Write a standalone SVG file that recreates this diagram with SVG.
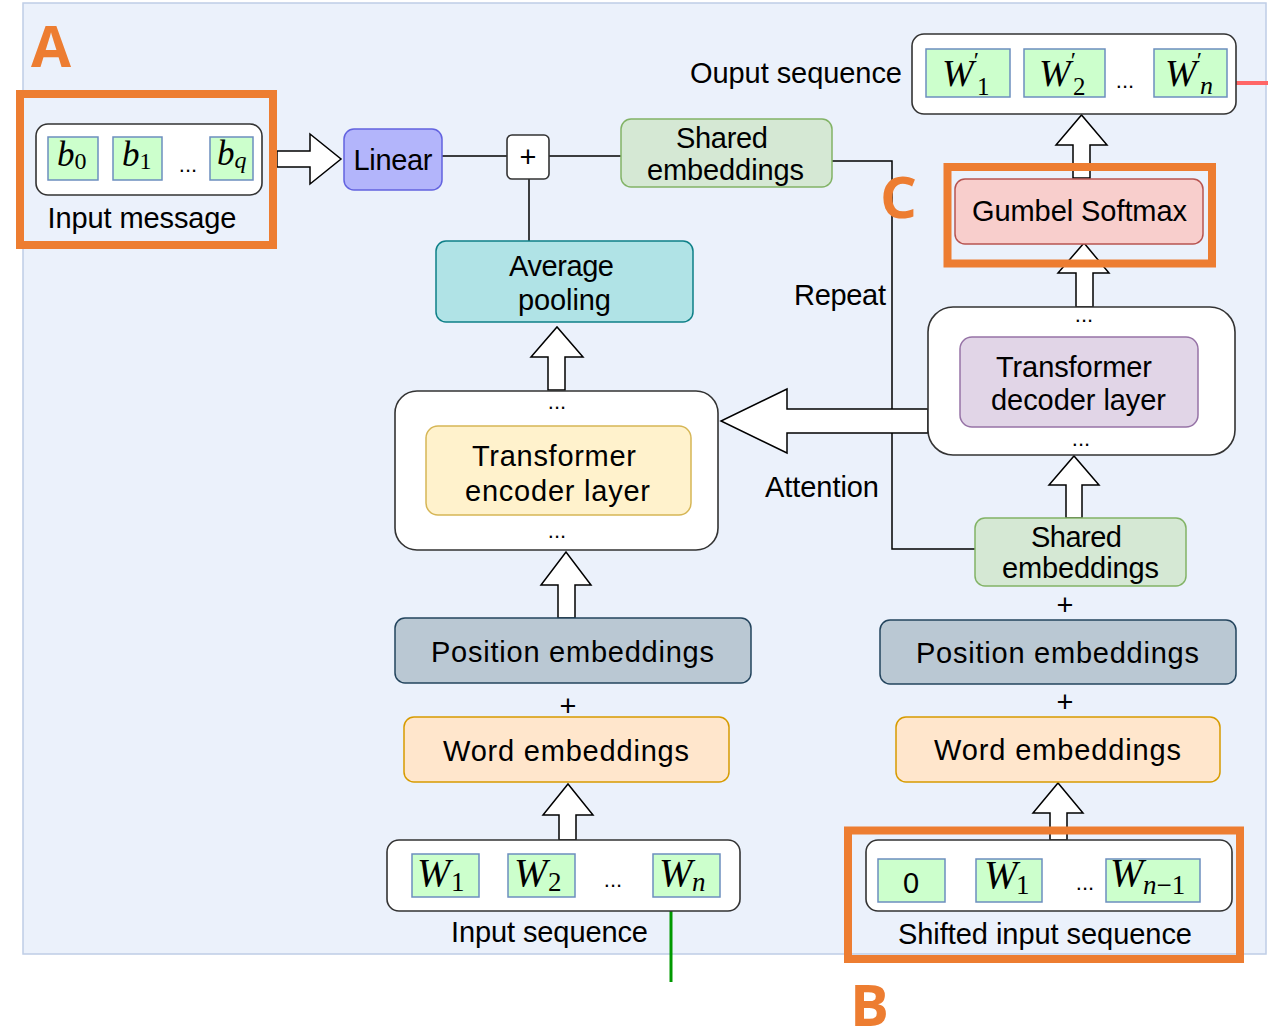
<svg xmlns="http://www.w3.org/2000/svg" width="1268" height="1032" viewBox="0 0 1268 1032">
<style>
.t{font-family:"Liberation Sans",Arial,sans-serif;font-size:29px;fill:#000}
.c{text-anchor:middle}
.m{font-family:"Liberation Serif","Times New Roman",serif;font-style:italic;fill:#000}
.u{font-style:normal}
.d{font-family:"Liberation Sans",Arial,sans-serif;font-size:22px;fill:#000;text-anchor:middle}
.cont{fill:#fff;stroke:#333;stroke-width:1.6}
.cell{fill:#CCFFCC;stroke:#6C8EBF;stroke-width:1.5}
.ln{fill:none;stroke:#000;stroke-width:1.5}
.ba{fill:#fff;stroke:#000;stroke-width:1.5;stroke-linejoin:miter}
.ob{fill:none;stroke:#ED7D31;stroke-width:8}
.big{font-family:"Open Sans","Liberation Sans",sans-serif;font-weight:bold;font-size:58px;fill:#ED7D31}
</style>
<rect x="0" y="0" width="1268" height="1032" fill="#fff"/>
<rect id="panel" x="23" y="3" width="1243" height="951" fill="#EBF1FB" stroke="#BFCDE6" stroke-width="1.5"/>

<g id="connectors">
<path class="ln" d="M442,156 H507"/>
<path class="ln" d="M549,156 H621"/>
<path class="ln" d="M529,179 V241"/>
<path class="ln" d="M832,161 H892 V549 H975"/>
<polygon class="ba" points="277,151 310,151 310,134 341,159 310,184 310,167 277,167"/>
<polygon class="ba" points="1073,178 1073,145 1056,145 1081.5,115 1107,145 1090,145 1090,178"/>
<polygon class="ba" points="1076,307 1076,273 1058,273 1084,243 1109,273 1093,273 1093,307"/>
<polygon class="ba" points="548,390 548,357 531,357 557,327 583,357 565,357 565,390"/>
<polygon class="ba" points="558,618 558,585 541,585 566,552 591,585 575,585 575,618"/>
<polygon class="ba" points="1066,518 1066,485 1049,485 1074,456 1099,485 1082,485 1082,518"/>
<polygon class="ba" points="559,840 559,815 543,815 568,784 593,815 576,815 576,840"/>
<polygon class="ba" points="1050,840 1050,813 1033,813 1058,783 1083,813 1067,813 1067,840"/>
<polygon class="ba" points="928,409 787,409 787,389 721,421 787,453 787,433 928,433"/>
<path d="M671,911 V982" stroke="#009900" stroke-width="3" fill="none"/>
<path d="M1236,83 H1268" stroke="#FF6666" stroke-width="4" fill="none"/>
</g>

<g id="input-message">
<rect class="cont" x="36" y="124" width="226" height="71" rx="12"/>
<rect class="cell" x="48" y="137" width="50" height="43"/>
<rect class="cell" x="113" y="137" width="49" height="43"/>
<rect class="cell" x="210" y="137" width="43" height="43"/>
<text class="m" x="57" y="166" font-size="35">b<tspan class="u" font-size="24" dy="3">0</tspan></text>
<text class="m" x="122" y="166" font-size="35">b<tspan class="u" font-size="24" dy="3">1</tspan></text>
<text class="m" x="217" y="165" font-size="35">b<tspan font-size="24" dy="3">q</tspan></text>
<text class="d" x="188" y="172">...</text>
<text class="t c" x="142" y="228" textLength="189">Input message</text>
</g>

<g id="linear">
<rect x="344" y="129" width="98" height="61" rx="10" fill="#B3B5FB" stroke="#6363E0" stroke-width="1.5"/>
<text class="t c" x="393" y="170" textLength="79">Linear</text>
</g>

<g id="plus">
<rect class="cont" x="507" y="135" width="42" height="44" rx="5"/>
<text class="t c" x="528" y="167" font-size="24">+</text>
</g>

<g id="shared-top">
<rect x="621" y="119" width="211" height="68" rx="10" fill="#D5E8D4" stroke="#82B366" stroke-width="1.5"/>
<text class="t c" x="722" y="148" textLength="92">Shared</text>
<text class="t c" x="725.5" y="180" textLength="157">embeddings</text>
</g>

<g id="output-sequence">
<text class="t" x="902" y="83" text-anchor="end" textLength="212">Ouput sequence</text>
<rect class="cont" x="912" y="34" width="324" height="80" rx="12"/>
<rect class="cell" x="926" y="49" width="84" height="48"/>
<rect class="cell" x="1024" y="49" width="81" height="48"/>
<rect class="cell" x="1154" y="49" width="73" height="48"/>
<text class="m" x="942" y="86" font-size="38">W<tspan class="u" font-size="24" dy="-18">′</tspan><tspan class="u" font-size="25" x="977" dy="27">1</tspan></text>
<text class="m" x="1039" y="86" font-size="38">W<tspan class="u" font-size="24" dy="-18">′</tspan><tspan class="u" font-size="25" x="1073" dy="27">2</tspan></text>
<text class="m" x="1165" y="86" font-size="38">W<tspan class="u" font-size="24" dy="-18">′</tspan><tspan font-size="26" x="1200" dy="26">n</tspan></text>
<text class="d" x="1125" y="88">...</text>
</g>

<g id="gumbel">
<rect x="955" y="179" width="248" height="65" rx="10" fill="#F8CECC" stroke="#B85450" stroke-width="1.5"/>
<text class="t c" x="1079.5" y="221" textLength="215">Gumbel Softmax</text>
</g>

<g id="average-pooling">
<rect x="436" y="241" width="257" height="81" rx="10" fill="#B0E3E6" stroke="#0E8088" stroke-width="1.5"/>
<text class="t c" x="561.5" y="276" textLength="105">Average</text>
<text class="t c" x="564.5" y="310" textLength="93">pooling</text>
</g>

<g id="labels">
<text class="t" x="886" y="305" text-anchor="end" textLength="92">Repeat</text>
<text class="t c" x="822" y="497" textLength="114">Attention</text>
</g>

<g id="encoder">
<rect class="cont" x="395" y="391" width="323" height="159" rx="22"/>
<text class="d" x="557" y="409">...</text>
<rect x="426" y="426" width="265" height="89" rx="12" fill="#FFF2CC" stroke="#D6B656" stroke-width="1.5"/>
<text class="t c" x="554" y="466" textLength="164">Transformer</text>
<text class="t c" x="557.5" y="501" textLength="185">encoder layer</text>
<text class="d" x="557" y="538">...</text>
</g>

<g id="decoder">
<rect class="cont" x="928" y="307" width="307" height="148" rx="25"/>
<text class="d" x="1084" y="322">...</text>
<rect x="960" y="337" width="238" height="90" rx="12" fill="#E1D5E7" stroke="#9673A6" stroke-width="1.5"/>
<text class="t c" x="1074" y="377" textLength="156">Transformer</text>
<text class="t c" x="1078.5" y="410" textLength="175">decoder layer</text>
<text class="d" x="1081" y="446">...</text>
</g>

<g id="shared-bottom">
<rect x="975" y="518" width="211" height="68" rx="10" fill="#D5E8D4" stroke="#82B366" stroke-width="1.5"/>
<text class="t c" x="1076.5" y="547" textLength="91">Shared</text>
<text class="t c" x="1080.5" y="578" textLength="157">embeddings</text>
<text class="t c" x="1065" y="615">+</text>
</g>

<g id="position-left">
<rect x="395" y="618" width="356" height="65" rx="10" fill="#BAC8D3" stroke="#23445D" stroke-width="1.5"/>
<text class="t c" x="572.5" y="662" textLength="283">Position embeddings</text>
<text class="t c" x="568" y="716">+</text>
</g>

<g id="position-right">
<rect x="880" y="620" width="356" height="64" rx="10" fill="#BAC8D3" stroke="#23445D" stroke-width="1.5"/>
<text class="t c" x="1057.5" y="663" textLength="283">Position embeddings</text>
<text class="t c" x="1065" y="712">+</text>
</g>

<g id="word-left">
<rect x="404" y="717" width="325" height="65" rx="10" fill="#FFE6CC" stroke="#D79B00" stroke-width="1.5"/>
<text class="t c" x="566" y="761" textLength="246">Word embeddings</text>
</g>

<g id="word-right">
<rect x="896" y="717" width="324" height="65" rx="10" fill="#FFE6CC" stroke="#D79B00" stroke-width="1.5"/>
<text class="t c" x="1057.5" y="760" textLength="247">Word embeddings</text>
</g>

<g id="input-sequence">
<rect class="cont" x="387" y="840" width="353" height="71" rx="12"/>
<rect class="cell" x="412" y="854" width="67" height="43"/>
<rect class="cell" x="508" y="854" width="67" height="43"/>
<rect class="cell" x="653" y="854" width="67" height="43"/>
<text class="m" x="417" y="886" font-size="40">W<tspan class="u" font-size="27" x="451" dy="5">1</tspan></text>
<text class="m" x="514" y="886" font-size="40">W<tspan class="u" font-size="27" x="548" dy="5">2</tspan></text>
<text class="m" x="659" y="886" font-size="40">W<tspan font-size="27" x="692" dy="5">n</tspan></text>
<text class="d" x="613" y="887">...</text>
<text class="t c" x="549.5" y="942" textLength="197">Input sequence</text>
</g>

<g id="shifted-input-sequence">
<rect class="cont" x="866" y="840" width="366" height="71" rx="12"/>
<rect class="cell" x="878" y="859" width="67" height="43"/>
<rect class="cell" x="976" y="859" width="66" height="43"/>
<rect class="cell" x="1106" y="859" width="94" height="43"/>
<text class="t c" x="911" y="893">0</text>
<text class="m" x="984" y="888" font-size="40">W<tspan class="u" font-size="27" x="1016" dy="6">1</tspan></text>
<text class="m" x="1110" y="886" font-size="40">W<tspan font-size="27" x="1143" dy="8">n</tspan><tspan class="u" font-size="27">−1</tspan></text>
<text class="d" x="1085" y="890">...</text>
<text class="t c" x="1045" y="944" textLength="294">Shifted input sequence</text>
</g>

<g id="highlights">
<rect class="ob" x="20" y="94" width="253" height="151"/>
<rect class="ob" x="947.5" y="167" width="264.5" height="96.5"/>
<rect class="ob" x="848" y="830.5" width="392" height="128.5"/>
<text class="big" x="31" y="67">A</text>
<text class="big" x="880" y="218">C</text>
<text class="big" x="850" y="1026">B</text>
</g>
</svg>
